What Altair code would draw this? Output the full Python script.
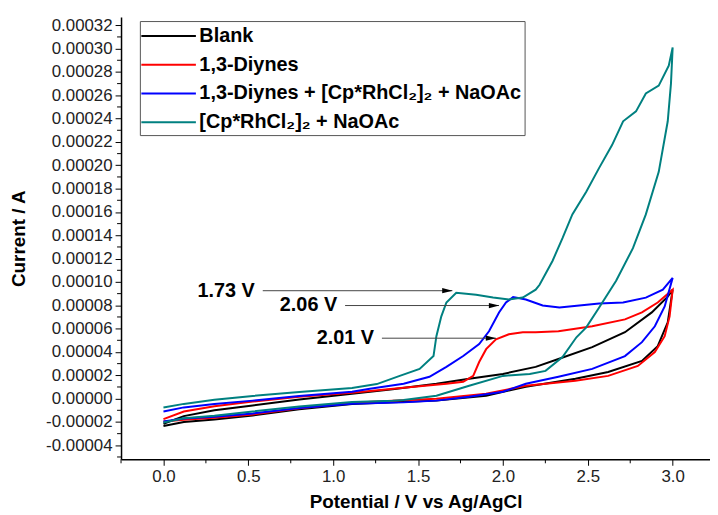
import altair as alt
import pandas as pd

# ---------------- data (potential in V, current in microamps) ----------------
series = ["Blank", "1,3-Diynes", "1,3-Diynes + [Cp*RhCl₂]₂ + NaOAc", "[Cp*RhCl₂]₂ + NaOAc"]
colors = ["#000000", "#ff0000", "#0000ff", "#008080"]

blank_fx = [0, 0.12, 0.3, 0.526, 0.8, 1.111, 1.35, 1.608, 1.801, 2.0, 2.193, 2.327, 2.526, 2.719,
            2.877, 2.971, 3.0]
blank_fy = [-21.5, -15, -10, -5.9, -0.8, 4.2, 8.0, 12.7, 17.0, 21.2, 27.2, 34.0, 44.1, 56.9,
            73.9, 87.4, 93.4]
blank_rx = [2.971, 2.912, 2.819, 2.620, 2.427, 2.135, 1.901, 1.608, 1.35, 1.111, 0.8, 0.526, 0.3, 0.12, 0]
blank_ry = [65.4, 45.0, 32.3, 22.9, 17.0, 10.2, 2.5, -1.7, -3.0, -4.6, -9.0, -14.4, -17.8, -20.0, -23.5]

red_fx = [0, 0.12, 0.3, 0.526, 0.8, 1.111, 1.415, 1.667, 1.766, 1.825, 1.860, 1.901, 1.959, 2.035,
          2.117, 2.193, 2.327, 2.526, 2.719, 2.819, 2.912, 3.0]
red_fy = [-17.5, -11, -6.5, -2.5, 1.6, 5.1, 9.3, 12.7, 14.4, 19.5, 31.4, 42.4, 50.9, 55.2,
          56.9, 56.9, 57.7, 62.0, 67.9, 73.9, 82.4, 93.4]
red_rx = [2.982, 2.953, 2.895, 2.795, 2.620, 2.427, 2.135, 1.901, 1.608, 1.35, 1.111, 0.8, 0.526,
          0.3, 0.12, 0]
red_ry = [70.5, 53.5, 39.9, 28.0, 19.5, 15.3, 11.0, 4.2, 0.0, -1.8, -3.6, -8.2, -13.6,
          -16.4, -18.0, -19.5]

blue_fx = [0, 0.12, 0.3, 0.526, 0.8, 1.111, 1.216, 1.415, 1.567, 1.667, 1.766, 1.860, 1.918, 1.977,
           2.018, 2.060, 2.135, 2.234, 2.333, 2.450, 2.567, 2.708, 2.842, 2.942, 3.0]
blue_fy = [-11.0, -7.5, -4.6, -1.7, 2.2, 5.9, 8.5, 12.7, 18.7, 27.2, 36.5, 46.7, 57.7, 73.9,
           82.4, 87.0, 85.0, 79.8, 78.1, 79.8, 81.5, 82.4, 86.6, 93.4, 103.5]
blue_rx = [2.953, 2.895, 2.819, 2.719, 2.526, 2.327, 2.135, 2.0, 1.801, 1.608, 1.415, 1.111, 0.8,
           0.526, 0.3, 0.12, 0]
blue_ry = [79.0, 62.0, 48.4, 36.5, 25.5, 18.7, 12.7, 5.9, 1.7, -1.7, -3.2, -4.4, -8.0,
           -12.7, -15.6, -17.0, -19.5]

teal_fx = [0, 0.12, 0.3, 0.526, 0.8, 1.111, 1.257, 1.392, 1.509, 1.591, 1.608, 1.637, 1.667, 1.725,
           1.842, 1.942, 2.035, 2.117, 2.193, 2.216, 2.292, 2.351, 2.409, 2.491, 2.567, 2.643,
           2.708, 2.784, 2.842, 2.918, 2.977, 3.0]
teal_fy = [-7.6, -4.5, -1.0, 2.3, 5.7, 9.1, 12.5, 19.5, 25.5, 36.5, 53.5, 70.5, 82.4, 90.8,
           89.1, 86.6, 84.9, 86.6, 93.4, 97.6, 118.0, 137.5, 157.9, 177.4, 197.8, 217.3,
           237.7, 246.2, 261.5, 268.3, 285.3, 301.0]
teal_rx = [2.99, 2.971, 2.918, 2.842, 2.766, 2.667, 2.567, 2.491, 2.433, 2.351, 2.251, 2.158, 2.0,
           1.801, 1.608, 1.415, 1.35, 1.111, 0.8, 0.526, 0.3, 0.12, 0]
teal_ry = [270.0, 237.7, 194.4, 157.9, 129.0, 101.0, 78.1, 61.1, 52.6, 35.7, 23.8, 21.2, 19.5,
           11.0, 2.5, -1.2, -1.8, -2.8, -6.8, -11.0, -14.6, -16.8, -20.4]

# annotations
ann_text = ["1.73 V", "2.06 V", "2.01 V"]
ann_start = [0.585, 1.070, 1.287]
ann_tip = [1.702, 1.977, 1.959]
ann_y = [92.5, 79.8, 51.8]

y_major = [-0.00004, -0.00002, 0.0, 0.00002, 0.00004, 0.00006, 0.00008, 0.00010, 0.00012,
           0.00014, 0.00016, 0.00018, 0.00020, 0.00022, 0.00024, 0.00026, 0.00028, 0.00030, 0.00032]
y_minor = [-0.00005, -0.00003, -0.00001, 0.00001, 0.00003, 0.00005, 0.00007, 0.00009, 0.00011,
           0.00013, 0.00015, 0.00017, 0.00019, 0.00021, 0.00023, 0.00025, 0.00027, 0.00029, 0.00031]
x_major = [0.0, 0.5, 1.0, 1.5, 2.0, 2.5, 3.0]
x_minor = [-0.25, 0.25, 0.75, 1.25, 1.75, 2.25, 2.75]

# ---------------- build tables ----------------
rows = []
for name, fx, fy, rx, ry in [
    (series[0], blank_fx, blank_fy, blank_rx, blank_ry),
    (series[1], red_fx, red_fy, red_rx, red_ry),
    (series[2], blue_fx, blue_fy, blue_rx, blue_ry),
    (series[3], teal_fx, teal_fy, teal_rx, teal_ry),
]:
    for i, (x, y) in enumerate(zip(fx + rx, fy + ry)):
        rows.append({"series": name, "order": i, "V": x, "uA": y})
df = pd.DataFrame(rows)
ann = pd.DataFrame({"text": ann_text, "V": ann_start, "tip": ann_tip, "uA": ann_y})
ymin_df = pd.DataFrame({"cur": y_minor})
xmin_df = pd.DataFrame({"V": x_minor})

FONT = "Liberation Sans"
W, H = 594, 446
XT = "Potential / V vs Ag/AgCl"
YT = "Current / A"
xscale = alt.Scale(domain=[-0.25, 3.22], nice=False, zero=False)
yscale = alt.Scale(domain=[-0.000052, 0.000327], nice=False, zero=False)
xaxis = alt.Axis(title=XT, values=x_major, format=".1f")
yaxis = alt.Axis(title=YT, values=y_major,
                 labelExpr="replace(format(datum.value, '.5f'), '\u2212', '-')")


def X(field):
    return alt.X(field, scale=xscale, axis=xaxis, title=XT)


def Y(field):
    return alt.Y(field, scale=yscale, axis=yaxis, title=YT)


lines = alt.Chart(df).transform_calculate(cur="datum.uA * 1e-6").mark_line(strokeWidth=2).encode(
    x=X("V:Q"),
    y=Y("cur:Q"),
    color=alt.Color("series:N", sort=series, scale=alt.Scale(domain=series, range=colors),
                    legend=alt.Legend(title=None, orient="none", legendX=19, legendY=4,
                                      symbolType="M-2.5,0H2.5", symbolSize=484, symbolStrokeWidth=2,
                                      symbolOffset=14, labelOffset=19,
                                      labelFontSize=20, labelFont=FONT, labelFontWeight="bold",
                                      labelColor="black", strokeColor="#555", fillColor="white",
                                      padding=3, rowPadding=7, labelLimit=0)),
    order="order:Q",
)

arrows = alt.Chart(ann).transform_calculate(cur="datum.uA * 1e-6").mark_rule(
    color="#444", strokeWidth=1).encode(
    x=X("V:Q"),
    x2="tip:Q",
    y=Y("cur:Q"),
)
heads = alt.Chart(ann).transform_calculate(cur="datum.uA * 1e-6", V2="datum.tip").mark_point(
    shape="M1,0L-1,-0.5L-1,0.5Z", filled=True, size=110, color="black", opacity=1, xOffset=-5).encode(
    x=X("V2:Q"),
    y=Y("cur:Q"),
)
labels = alt.Chart(ann).transform_calculate(cur="datum.uA * 1e-6").mark_text(
    align="right", baseline="middle", dx=-8, fontSize=20, fontWeight="bold", font=FONT,
    color="black").encode(
    x=X("V:Q"),
    y=Y("cur:Q"),
    text="text:N",
)
yminor = alt.Chart(ymin_df).mark_rule(color="black", strokeWidth=1).encode(
    y=Y("cur:Q"),
    x=alt.value(0), x2=alt.value(-4),
)
xminor = alt.Chart(xmin_df).mark_rule(color="black", strokeWidth=1).encode(
    x=X("V:Q"),
    y=alt.value(H), y2=alt.value(H + 4),
)

chart = alt.layer(lines, arrows, heads, labels, yminor, xminor).properties(
    width=W, height=H,
    autosize=alt.AutoSizeParams(type="none"),
    padding={"left": 114, "top": 7, "right": 0, "bottom": 56},
    background="white",
).configure_view(stroke=None).configure_axis(
    grid=False, domainColor="black", domainWidth=1.5, tickColor="black", tickSize=6,
    labelFont=FONT, labelFontSize=17, labelColor="#222", labelPadding=3,
    titleFont=FONT, titleFontSize=19, titleFontWeight="bold", titleColor="black",
).configure_axisY(titlePadding=17).configure_axisX(titlePadding=9)

chart.save("out.html", embed_options={"renderer": "svg", "actions": False})
